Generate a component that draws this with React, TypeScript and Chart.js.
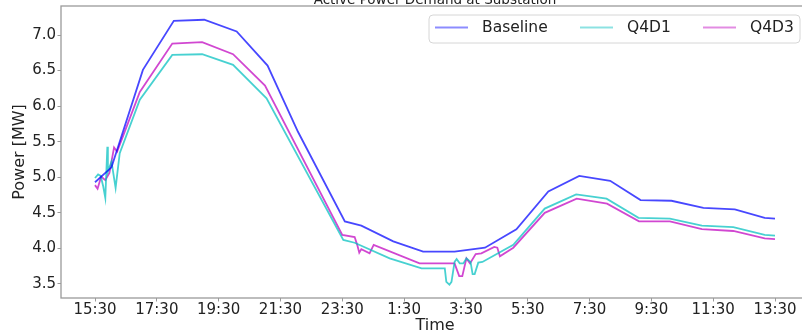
import React, { useEffect, useRef } from "react";
import { Chart, registerables } from "chart.js";

Chart.register(...registerables);

const TITLE = "Active Power Demand at Substation";
const X_LABEL = "Time";
const Y_LABEL = "Power [MW]";
const SERIES_NAMES = ["Baseline", "Q4D1", "Q4D3"];
const X_TICK_LABELS = ["15:30", "17:30", "19:30", "21:30", "23:30", "1:30", "3:30", "5:30", "7:30", "9:30", "11:30", "13:30"];
const Y_TICKS = [3.5, 4.0, 4.5, 5.0, 5.5, 6.0, 6.5, 7.0];

const baselineTimes = ["15:30", "16:02", "17:03", "18:03", "19:02", "20:05", "21:05", "22:04", "23:35", "0:07", "1:09", "2:07", "3:08", "4:07", "5:08", "6:10", "7:10", "8:10", "9:09", "10:09", "11:11", "12:12", "13:10", "13:30"];
const baselineValues = [4.93, 5.14, 6.51, 7.2, 7.215, 7.05, 6.57, 5.64, 4.38, 4.32, 4.1, 3.955, 3.955, 4.01, 4.27, 4.8, 5.02, 4.95, 4.68, 4.67, 4.57, 4.55, 4.43, 4.42];

const q4d1Times = ["15:30", "15:36", "15:41", "15:46", "15:50", "15:54", "15:55", "16:02", "16:10", "16:18", "16:57", "18:00", "18:58", "19:58", "21:03", "23:32", "23:54", "1:02", "2:04", "2:49", "2:52", "2:58", "3:02", "3:08", "3:12", "3:18", "3:25", "3:31", "3:39", "3:43", "3:47", "3:54", "4:02", "5:02", "6:03", "7:04", "8:03", "9:05", "10:06", "11:08", "12:09", "13:10", "13:30"];
const q4d1Values = [4.99, 5.04, 5.02, 4.87, 4.71, 5.43, 5.08, 5.22, 4.85, 5.34, 6.09, 6.72, 6.73, 6.58, 6.11, 4.12, 4.08, 3.86, 3.72, 3.72, 3.53, 3.49, 3.53, 3.81, 3.85, 3.79, 3.79, 3.86, 3.81, 3.64, 3.64, 3.8, 3.81, 4.05, 4.56, 4.76, 4.7, 4.43, 4.42, 4.32, 4.3, 4.19, 4.18];

const q4d3Times = ["15:30", "15:35", "15:42", "15:50", "15:58", "16:07", "16:13", "16:57", "18:00", "18:58", "19:58", "21:00", "23:30", "23:54", "23:59", "0:03", "0:07", "0:23", "0:31", "2:00", "3:08", "3:17", "3:23", "3:31", "3:38", "3:49", "4:00", "4:25", "4:31", "4:36", "5:02", "6:03", "7:05", "8:04", "9:06", "10:06", "11:08", "12:09", "13:10", "13:30"];
const q4d3Values = [4.89, 4.84, 5.01, 4.96, 5.06, 5.42, 5.36, 6.2, 6.88, 6.9, 6.73, 6.29, 4.19, 4.16, 4.05, 3.94, 3.99, 3.93, 4.05, 3.79, 3.79, 3.61, 3.61, 3.86, 3.79, 3.92, 3.93, 4.02, 4.01, 3.89, 4.01, 4.5, 4.7, 4.63, 4.38, 4.38, 4.27, 4.245, 4.14, 4.13];

const LINE_COLORS = ["rgba(0,0,255,0.72)", "rgba(0,191,191,0.72)", "rgba(191,0,191,0.72)"];
const LEGEND_COLORS = ["rgba(0,0,255,0.45)", "rgba(0,191,191,0.45)", "rgba(191,0,191,0.45)"];
const FONT = "'DejaVu Sans', sans-serif";
const TEXT = "#222";

const START_MIN = 15 * 60 + 30;
function toMin(t: string): number {
  const [h, m] = t.split(":").map(Number);
  return (((h * 60 + m - START_MIN) % 1440) + 1440) % 1440;
}

function points(times: string[], values: number[]) {
  return times.map((t, i) => ({ x: toMin(t), y: values[i] }));
}

const decorPlugin = {
  id: "decor",
  afterDatasetsDraw(chart: any) {
    const { ctx, chartArea } = chart;
    ctx.save();
    ctx.strokeStyle = "#9a9a9a";
    ctx.lineWidth = 1.3;
    ctx.strokeRect(chartArea.left, chartArea.top, chartArea.right - chartArea.left, chartArea.bottom - chartArea.top);
    ctx.restore();
  },
  afterDraw(chart: any) {
    const { ctx, chartArea } = chart;
    ctx.save();
    // title
    ctx.fillStyle = TEXT;
    ctx.font = `13.5px ${FONT}`;
    ctx.textAlign = "center";
    ctx.textBaseline = "alphabetic";
    ctx.fillText(TITLE, (chartArea.left + chartArea.right) / 2, 3.5);
    // legend
    const bx = 429, by = 15, bw = 371, bh = 28, r = 4;
    ctx.beginPath();
    ctx.moveTo(bx + r, by);
    ctx.lineTo(bx + bw - r, by);
    ctx.quadraticCurveTo(bx + bw, by, bx + bw, by + r);
    ctx.lineTo(bx + bw, by + bh - r);
    ctx.quadraticCurveTo(bx + bw, by + bh, bx + bw - r, by + bh);
    ctx.lineTo(bx + r, by + bh);
    ctx.quadraticCurveTo(bx, by + bh, bx, by + bh - r);
    ctx.lineTo(bx, by + r);
    ctx.quadraticCurveTo(bx, by, bx + r, by);
    ctx.closePath();
    ctx.fillStyle = "rgba(255,255,255,0.8)";
    ctx.fill();
    ctx.strokeStyle = "#d6d6d6";
    ctx.lineWidth = 1;
    ctx.stroke();
    const lineStarts = [435, 580, 703];
    ctx.font = `15.5px ${FONT}`;
    ctx.textAlign = "left";
    ctx.textBaseline = "middle";
    SERIES_NAMES.forEach((name, i) => {
      const x0 = lineStarts[i];
      ctx.strokeStyle = LEGEND_COLORS[i];
      ctx.lineWidth = 2;
      ctx.beginPath();
      ctx.moveTo(x0, 27.5);
      ctx.lineTo(x0 + 33, 27.5);
      ctx.stroke();
      ctx.fillStyle = TEXT;
      ctx.fillText(name, x0 + 47, 28);
    });
    ctx.restore();
  },
};

export default function App() {
  const ref = useRef<HTMLCanvasElement | null>(null);
  useEffect(() => {
    if (!ref.current) return;
    const tickFont = { family: FONT, size: 15 };
    const titleFont = { family: FONT, size: 16 };
    const chart = new Chart(ref.current, {
      type: "line",
      data: {
        datasets: [
          { label: SERIES_NAMES[0], data: points(baselineTimes, baselineValues), borderColor: LINE_COLORS[0] },
          { label: SERIES_NAMES[1], data: points(q4d1Times, q4d1Values), borderColor: LINE_COLORS[1] },
          { label: SERIES_NAMES[2], data: points(q4d3Times, q4d3Values), borderColor: LINE_COLORS[2] },
        ].map((d) => ({ ...d, borderWidth: 1.8, pointRadius: 0, tension: 0, fill: false })),
      },
      options: {
        animation: false,
        responsive: false,
        maintainAspectRatio: false,
        layout: { padding: { top: 6, right: 6, left: 0, bottom: 0 } },
        plugins: { legend: { display: false }, title: { display: false }, tooltip: { enabled: false } },
        scales: {
          x: {
            type: "linear",
            min: -66,
            max: 1386,
            afterBuildTicks: (s: any) => {
              s.ticks = X_TICK_LABELS.map((l) => ({ value: toMin(l) }));
            },
            afterFit: (s: any) => {
              s.height = 37;
              s.paddingLeft = 0;
              s.paddingRight = 0;
            },
            ticks: {
              callback: (v: any) => {
                const i = X_TICK_LABELS.findIndex((l) => toMin(l) === Number(v));
                return i >= 0 ? X_TICK_LABELS[i] : "";
              },
              font: tickFont,
              color: TEXT,
              maxRotation: 0,
              autoSkip: false,
              padding: 0,
            },
            grid: { display: true, drawOnChartArea: false, drawTicks: true, tickLength: 3.5, color: "#9a9a9a", lineWidth: 1 },
            border: { display: false },
            title: { display: true, text: X_LABEL, font: titleFont, color: TEXT, padding: { top: 0, bottom: 0 } },
          },
          y: {
            type: "linear",
            min: 3.303,
            max: 7.408,
            afterBuildTicks: (s: any) => {
              s.ticks = Y_TICKS.map((v) => ({ value: v }));
            },
            afterFit: (s: any) => {
              s.width = 61;
              s.paddingTop = 0;
              s.paddingBottom = 0;
            },
            ticks: {
              callback: (v: any) => Number(v).toFixed(1),
              font: tickFont,
              color: TEXT,
              padding: 1.5,
            },
            grid: { display: true, drawOnChartArea: false, drawTicks: true, tickLength: 3.5, color: "#9a9a9a", lineWidth: 1 },
            border: { display: false },
            title: { display: true, text: Y_LABEL, font: titleFont, color: TEXT, padding: { top: 10, bottom: 0 } },
          },
        },
      } as any,
      plugins: [decorPlugin],
    });
    return () => chart.destroy();
  }, []);

  return (
    <div style={{ position: "fixed", left: 0, top: 0, width: 802, height: 335, overflow: "hidden", background: "#fff" }}>
      <canvas ref={ref} width={815} height={335} style={{ display: "block", width: 815, height: 335 }} />
    </div>
  );
}
